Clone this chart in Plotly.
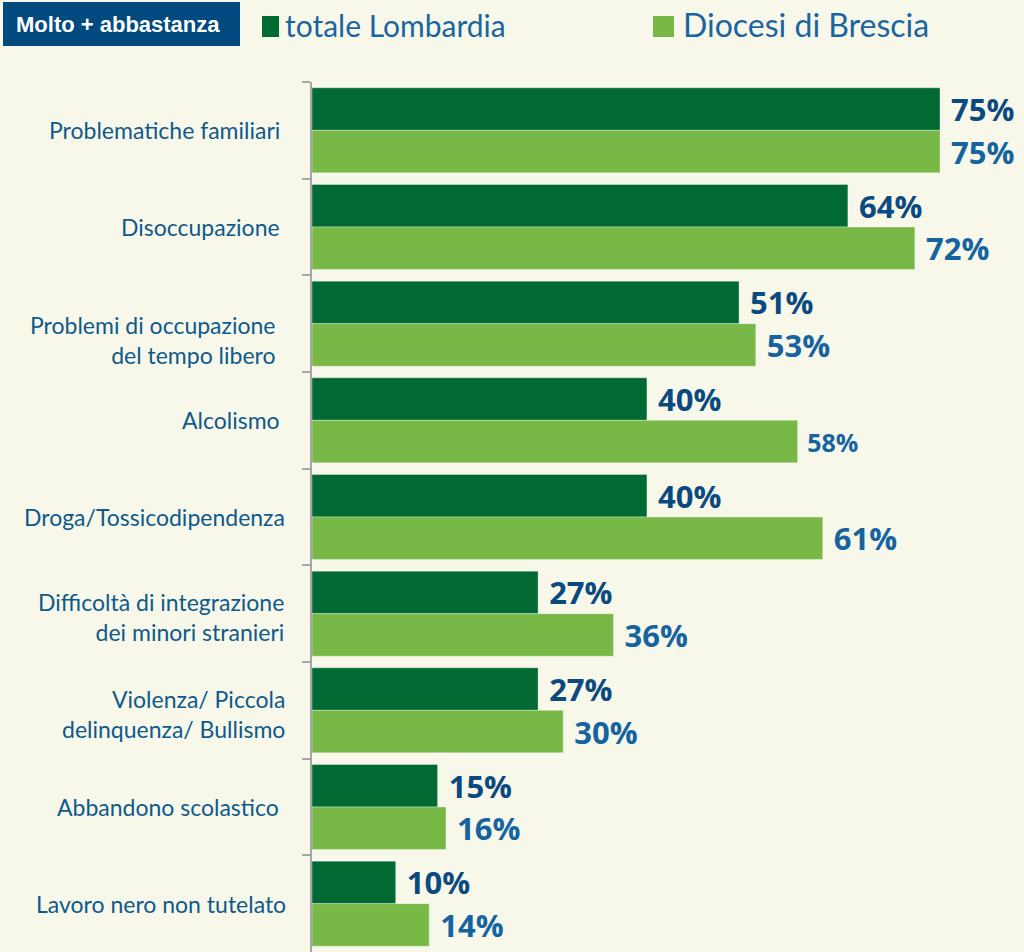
import plotly.graph_objects as go

categories = [
    "Problematiche familiari",
    "Disoccupazione",
    "Problemi di occupazione<br>del tempo libero",
    "Alcolismo",
    "Droga/Tossicodipendenza",
    "Difficoltà di integrazione<br>dei minori stranieri",
    "Violenza/ Piccola<br>delinquenza/ Bullismo",
    "Abbandono scolastico",
    "Lavoro nero non tutelato",
]
lombardia = [75, 64, 51, 40, 40, 27, 27, 15, 10]
brescia = [75, 72, 53, 58, 61, 36, 30, 16, 14]
series_names = ["totale Lombardia", "Diocesi di Brescia"]
header_text = "Molto + abbastanza"

W, H = 1024, 952
L, R, T, B = 312, 0, 82, 0
PW, PH = W - L - R, H - T - B

def px(x):
    return (x - L) / PW

def py(y):
    return (H - B - y) / PH

DARK = "#006a32"
LIGHT = "#78b846"
BG = "#f8f8ea"
TXT_DARK = "#0b4a80"
TXT_LIGHT = "#1564a0"
CAT_COLOR = "#0e5a8a"
FONT = "Lato, Open Sans, sans-serif"

def labels(vals):
    return ["\u00a0" + f"{v}%" for v in vals]

bright_sizes = [31] * len(brescia)
bright_sizes[3] = 25  # smaller label in the original (58%)

fig = go.Figure()
fig.add_trace(go.Bar(
    y=categories, x=lombardia, orientation="h", name=series_names[0],
    marker=dict(color=DARK, line=dict(color="rgba(255,255,255,0.35)", width=1)),
    text=labels(lombardia), textposition="outside", constraintext="none",
    textfont=dict(family="Open Sans", size=31, color=TXT_DARK, weight="bold"),
    cliponaxis=False,
))
fig.add_trace(go.Bar(
    y=categories, x=brescia, orientation="h", name=series_names[1],
    marker=dict(color=LIGHT, line=dict(color="rgba(255,255,255,0.35)", width=1)),
    text=labels(brescia), textposition="outside", constraintext="none",
    textfont=dict(family="Open Sans", size=bright_sizes, color=TXT_LIGHT, weight="bold"),
    cliponaxis=False,
))

fig.update_layout(
    width=W, height=H,
    margin=dict(l=L, r=R, t=T, b=B, pad=0),
    paper_bgcolor=BG, plot_bgcolor=BG,
    barmode="group", bargap=0.12, bargroupgap=0,
    showlegend=False,
    xaxis=dict(range=[0, PW / ((940 - 312) / 75)], visible=False, fixedrange=True),
    yaxis=dict(
        autorange="reversed", showline=True, linecolor="#a6a6a6", linewidth=2,
        ticks="outside", tickson="boundaries", ticklen=8, tickcolor="#a6a6a6", tickwidth=2,
        showticklabels=False, showgrid=False, fixedrange=True,
    ),
)

# category labels (as annotations so that each can be nudged like the original)
label_right = [282, 282, 277, 282, 287, 286, 287, 281, 288]
label_yshift = [0, 0, -16, 0, 0, -3, -4, 0, 0]
for cat, xr, ys in zip(categories, label_right, label_yshift):
    fig.add_annotation(xref="paper", yref="y", x=px(xr), y=cat, text=cat,
                       showarrow=False, xanchor="right", yanchor="middle", align="right",
                       yshift=ys,
                       font=dict(family=FONT, size=23, color=CAT_COLOR))

shapes = [
    dict(type="rect", xref="paper", yref="paper", x0=px(3), x1=px(240), y0=py(46), y1=py(2),
         fillcolor="#004a80", line=dict(width=0), layer="above"),
    dict(type="rect", xref="paper", yref="paper", x0=px(262), x1=px(279), y0=py(37), y1=py(16),
         fillcolor=DARK, line=dict(width=0)),
    dict(type="rect", xref="paper", yref="paper", x0=px(653), x1=px(674), y0=py(37), y1=py(16),
         fillcolor=LIGHT, line=dict(width=0)),
]
fig.update_layout(shapes=shapes)

fig.add_annotation(xref="paper", yref="paper", x=px(118), y=py(24), text=header_text,
                   showarrow=False, xanchor="center", yanchor="middle",
                   font=dict(family="Liberation Sans", size=22, color="white", weight="bold"))
fig.add_annotation(xref="paper", yref="paper", x=px(283), y=py(25), text=series_names[0],
                   showarrow=False, xanchor="left", yanchor="middle",
                   font=dict(family=FONT, size=30, color="#1a65a0"))
fig.add_annotation(xref="paper", yref="paper", x=px(681), y=py(25), text=series_names[1],
                   showarrow=False, xanchor="left", yanchor="middle",
                   font=dict(family=FONT, size=32, color="#1a65a0"))

fig.write_html("out.html", config={"displayModeBar": False},
               post_script="document.body.style.margin='0';document.body.style.padding='0';")
